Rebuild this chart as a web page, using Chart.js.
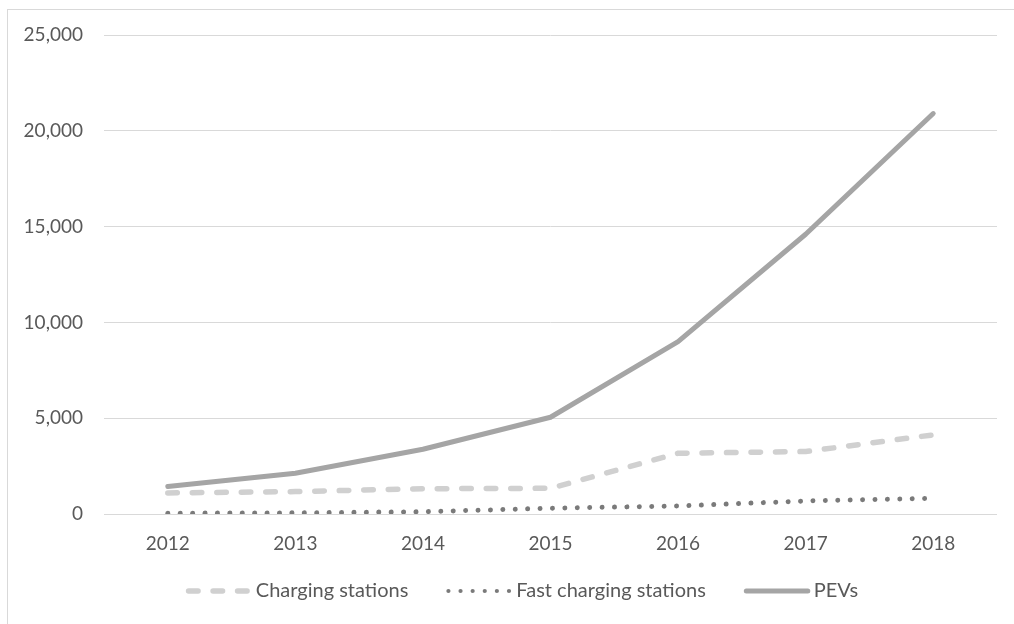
<!DOCTYPE html>
<html>
<head>
<meta charset="utf-8">
<script src="https://cdn.jsdelivr.net/npm/chart.js@4/dist/chart.umd.min.js"></script>
<style>
  html, body { margin: 0; padding: 0; background: #fff; overflow: hidden; width: 1014px; height: 624px; }
  #frame { position: absolute; left: 7px; top: 9px; width: 1100px; height: 700px;
           border-left: 1px solid #d9d9d9; border-top: 1px solid #d9d9d9; }
  #chart { position: absolute; left: 0; top: 0; }
</style>
</head>
<body>
<div id="frame"><canvas id="chart" width="1006" height="614"></canvas></div>
<script>
// Years on the horizontal axis
const years = ['2012', '2013', '2014', '2015', '2016', '2017', '2018'];

// Series values
const chargingStations = [1100, 1170, 1320, 1340, 3170, 3260, 4130];
const fastChargingStations = [40, 60, 120, 300, 420, 680, 820];
const pevs = [1430, 2130, 3380, 5050, 9000, 14600, 20900];

// Value axis range
const yMin = 0;
const yMax = 25000;
const yStep = 5000;

const FONT = 'Lato, "Open Sans", sans-serif';
const TEXT = '#595959';

// Bottom legend: a line sample in each series' own stroke, followed by its name
const lineLegend = {
  id: 'lineLegend',
  afterDraw(chart, args, opts) {
    const ctx = chart.ctx;
    const sample = opts.sampleWidth, gapText = opts.textGap, gapItem = opts.itemGap;
    ctx.save();
    ctx.font = `${opts.fontSize}px ${FONT}`;
    const items = chart.data.datasets.map(ds => ({ ds, w: ctx.measureText(ds.label).width }));
    const total = items.reduce((s, it) => s + sample + gapText + it.w, 0) + gapItem * (items.length - 1);
    let x = opts.centerX - total / 2;
    const y = opts.y;
    items.forEach(({ ds, w }) => {
      const lw = ds.legendLineWidth || ds.borderWidth;
      ctx.beginPath();
      ctx.strokeStyle = ds.borderColor;
      ctx.lineWidth = lw;
      ctx.lineCap = ds.borderCapStyle || 'butt';
      ctx.setLineDash(ds.legendDash || ds.borderDash || []);
      ctx.moveTo(x + lw / 2, y);
      ctx.lineTo(x + sample - lw / 2 + 0.5, y);
      ctx.stroke();
      ctx.setLineDash([]);
      ctx.fillStyle = TEXT;
      ctx.textBaseline = 'middle';
      ctx.textAlign = 'left';
      ctx.fillText(ds.label, x + sample + gapText, y);
      x += sample + gapText + w + gapItem;
    });
    ctx.restore();
  }
};

new Chart(document.getElementById('chart'), {
  type: 'line',
  data: {
    labels: years,
    datasets: [
      {
        label: 'Charging stations',
        data: chargingStations,
        borderColor: '#d0d0d0',
        backgroundColor: '#d0d0d0',
        borderWidth: 5.5,
        borderDash: [9.5, 15],
        borderCapStyle: 'round',
        borderJoinStyle: 'round',
        pointRadius: 0,
        tension: 0
      },
      {
        label: 'Fast charging stations',
        data: fastChargingStations,
        borderColor: '#7a7a7a',
        backgroundColor: '#7a7a7a',
        borderWidth: 5,
        borderDash: [0.01, 12.4],
        legendLineWidth: 4.2,
        legendDash: [0.01, 12.1],
        borderCapStyle: 'round',
        borderJoinStyle: 'round',
        pointRadius: 0,
        tension: 0
      },
      {
        label: 'PEVs',
        data: pevs,
        borderColor: '#a5a5a5',
        backgroundColor: '#a5a5a5',
        borderWidth: 5,
        borderCapStyle: 'round',
        borderJoinStyle: 'round',
        pointRadius: 0,
        tension: 0
      }
    ]
  },
  plugins: [lineLegend],
  options: {
    responsive: false,
    animation: false,
    layout: { padding: { left: 0, right: 17, top: 25, bottom: 65 } },
    plugins: {
      tooltip: { enabled: false },
      legend: { display: false },
      lineLegend: { centerX: 514, y: 581, sampleWidth: 66, textGap: 4, itemGap: 38, fontSize: 20 }
    },
    scales: {
      x: {
        offset: true,
        grid: { display: false, drawTicks: false },
        border: { display: false },
        ticks: { color: TEXT, padding: 18, font: { family: FONT, size: 19 } },
        afterFit: s => { s.height = 45; }
      },
      y: {
        min: yMin,
        max: yMax,
        grid: { color: '#d9d9d9', lineWidth: 1, drawTicks: true, tickLength: 21, tickColor: 'rgba(0,0,0,0)' },
        border: { display: false },
        ticks: {
          stepSize: yStep,
          color: TEXT,
          padding: 0,
          font: { family: FONT, size: 19 },
          callback: v => v.toLocaleString('en-US')
        },
        afterFit: s => { s.width = 96; }
      }
    }
  }
});
</script>
</body>
</html>
